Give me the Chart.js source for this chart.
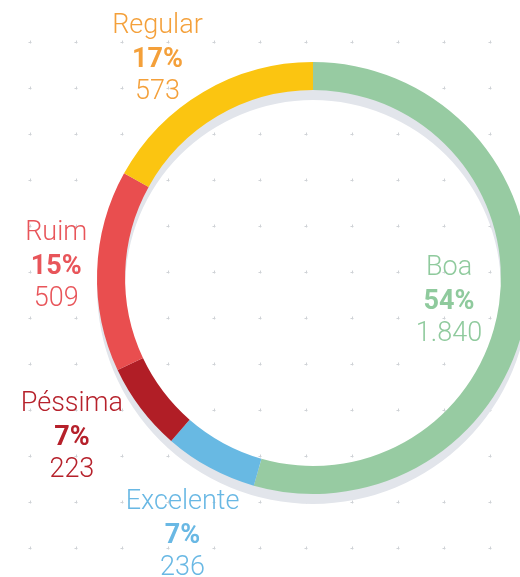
<!DOCTYPE html>
<html>
<head>
<meta charset="utf-8">
<script src="https://cdn.jsdelivr.net/npm/chart.js@4/dist/chart.umd.min.js"></script>
<style>
  html, body { margin: 0; padding: 0; background: #fff; overflow: hidden; }
  #wrap { position: absolute; left: 0; top: 0; width: 560px; height: 577px; }
</style>
</head>
<body>
<div id="wrap"><canvas id="chart"></canvas></div>
<script>
// data, clockwise from 12 o'clock
const categories = ["Boa", "Excelente", "Péssima", "Ruim", "Regular"];
const counts = [1840, 236, 223, 509, 573];

const ringColors = ["#97cba2", "#68b9e3", "#b11e26", "#e94e4f", "#fbc511"];
const textColors = ["#8fca9d", "#69b8e4", "#b6212b", "#e8555a", "#f4a03a"];
// label placement: distance from centre (x outer radius) and angle tweak (deg)
const labelDist = [0.64, 1.34, 1.34, 1.19, 1.24];
const labelShift = [2.3, -1.7, 3.5, 0.6, -5];

const total = counts.reduce((a, b) => a + b, 0);
const fmt = (n) => String(n).replace(/\B(?=(\d{3})+(?!\d))/g, ".");

const gridDots = {
  id: "gridDots",
  beforeDraw(chart) {
    const ctx = chart.ctx;
    ctx.save();
    ctx.strokeStyle = "#cfd2d6";
    ctx.lineWidth = 1;
    for (let x = 30; x < chart.width; x += 46) {
      for (let y = 42; y < chart.height; y += 46) {
        ctx.beginPath();
        ctx.moveTo(x - 1.5, y + 0.5);
        ctx.lineTo(x + 1.5, y + 0.5);
        ctx.moveTo(x + 0.5, y - 1.5);
        ctx.lineTo(x + 0.5, y + 1.5);
        ctx.stroke();
      }
    }
    ctx.restore();
  },
};

const ringShadow = {
  id: "ringShadow",
  beforeDatasetsDraw(chart) {
    const arc = chart.getDatasetMeta(0).data[0];
    if (!arc) return;
    const ctx = chart.ctx;
    ctx.save();
    ctx.fillStyle = "#e2e5eb";
    ctx.beginPath();
    ctx.arc(arc.x, arc.y + 10, arc.outerRadius, 0, Math.PI * 2);
    ctx.arc(arc.x, arc.y + 10, arc.innerRadius, 0, Math.PI * 2, true);
    ctx.fill();
    ctx.restore();
  },
};

const sliceLabels = {
  id: "sliceLabels",
  afterDatasetsDraw(chart) {
    const ctx = chart.ctx;
    const arcs = chart.getDatasetMeta(0).data;
    ctx.save();
    ctx.textAlign = "center";
    ctx.textBaseline = "middle";
    arcs.forEach((arc, i) => {
      const mid = (arc.startAngle + arc.endAngle) / 2 + (labelShift[i] * Math.PI) / 180;
      const r = arc.outerRadius * labelDist[i];
      const x = arc.x + Math.cos(mid) * r;
      const y = arc.y + Math.sin(mid) * r;
      ctx.fillStyle = textColors[i];
      ctx.font = "300 27px Roboto, 'DejaVu Sans Condensed', sans-serif";
      ctx.fillText(categories[i], x, y - 34);
      ctx.font = "bold 27px Roboto, 'DejaVu Sans Condensed', sans-serif";
      ctx.fillText(Math.round((counts[i] / total) * 100) + "%", x, y);
      ctx.font = "300 27px Roboto, 'DejaVu Sans Condensed', sans-serif";
      ctx.fillText(fmt(counts[i]), x, y + 32);
    });
    ctx.restore();
  },
};

new Chart(document.getElementById("chart").getContext("2d"), {
  type: "doughnut",
  data: {
    labels: categories,
    datasets: [
      {
        data: counts,
        backgroundColor: ringColors,
        borderWidth: 0,
        hoverOffset: 0,
      },
    ],
  },
  options: {
    responsive: true,
    maintainAspectRatio: false,
    animation: false,
    cutout: "87%",
    rotation: 0,
    layout: { padding: { left: 97, right: 31, top: 62, bottom: 83 } },
    plugins: {
      legend: { display: false },
      tooltip: { enabled: false },
    },
  },
  plugins: [gridDots, ringShadow, sliceLabels],
});
</script>
</body>
</html>
